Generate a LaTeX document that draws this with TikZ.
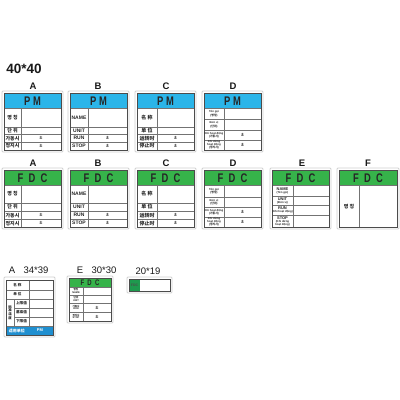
\documentclass[tikz,border=0pt]{standalone}
\usepackage{fontspec}
\setmainfont{Liberation Sans}
\newfontfamily\kr{Noto Sans CJK KR}
\newfontfamily\zh{Noto Sans CJK SC}
\definecolor{pmblue}{HTML}{2BB5E9}
\definecolor{fdcgreen}{HTML}{36B34A}
\definecolor{dkgreen}{HTML}{1E9A4E}
\definecolor{barblue}{HTML}{1F8FD0}
\tikzset{
 pframe/.style={draw=black!18, fill=white, rounded corners=1pt, line width=0.8pt},
 pbox/.style={draw=black!70, line width=0.8pt},
 pgrid/.style={draw=black!55, line width=0.5pt},
 lbl/.style={inner sep=0, font=\fontsize{5}{5.5}\selectfont\bfseries, text=black!85},
 tinylbl/.style={inner sep=0, align=center, font=\fontsize{2.8}{3.1}\selectfont\bfseries, text=black!85},
 hdr/.style={inner sep=0, font=\fontsize{12.5}{12.5}\selectfont\bfseries, text=black!85},
 capt/.style={inner sep=0, font=\fontsize{9.5}{9.5}\selectfont\bfseries, text=black!90},
 ttl/.style={inner sep=0, font=\fontsize{13.5}{13.5}\selectfont\bfseries, text=black!90}
}
\newcommand\stdpanel[9]{%
 \xdef\PX{#1}\xdef\PY{#2}\xdef\PD{#5}\xdef\PA{#6}\xdef\PB{#7}\xdef\PC{#8}\xdef\PN{#9}%
 \draw[pframe] (#1,#2) rectangle (#1+61,#2+61);
 \fill[#3] (#1+2,#2+2) rectangle (#1+59,#2+17);
 \node[hdr] (#9h) at (#1+30.5,#2+9.8) {\scalebox{0.75}[1]{#4}};
 \draw[pgrid] (#1+2,#2+17) -- (#1+59,#2+17);
 \draw[pgrid] (#1+2,#2+#6) -- (#1+59,#2+#6);
 \draw[pgrid] (#1+2,#2+#7) -- (#1+59,#2+#7);
 \draw[pgrid] (#1+2,#2+#8) -- (#1+59,#2+#8);
 \draw[pgrid] (#1+#5,#2+17) -- (#1+#5,#2+59);
 \draw[pbox] (#1+2,#2+2) rectangle (#1+59,#2+59);
}
\newcommand\labs[5]{%
 \node[#5] (\PN l1) at (\PX+1+\PD/2, \PY+8.5+\PA/2) {#1};
 \node[#5] (\PN l2) at (\PX+1+\PD/2, \PY+\PA/2+\PB/2) {#2};
 \node[#5] (\PN l3) at (\PX+1+\PD/2, \PY+\PB/2+\PC/2) {#3};
 \node[#5] (\PN l4) at (\PX+1+\PD/2, \PY+\PC/2+29.5) {#4};
}
\newcommand\pms{%
 \node[lbl] (\PN p3) at (\PX+\PD/2+29.5, \PY+\PB/2+\PC/2) {±};
 \node[lbl] (\PN p4) at (\PX+\PD/2+29.5, \PY+\PC/2+29.5) {±};
}
\begin{document}
\begin{tikzpicture}[x=1pt,y=-1pt]
\useasboundingbox (0,0) rectangle (400,400);
\fill[white] (0,0) rectangle (400,400);
% title
\node[ttl] (t40) at (24,68.5) {40*40};
% row 1 captions
\node[capt] (c1a) at (33,86) {A};
\node[capt] (c1b) at (98,86) {B};
\node[capt] (c1c) at (166,86) {C};
\node[capt] (c1d) at (233,86) {D};
% row 1 panels
\stdpanel{2}{91}{pmblue}{P M}{19}{36}{43.5}{51}{pa}
\labs{\kr 명 칭}{\kr 단 위}{\kr 가동시}{\kr 정지시}{lbl}\pms
\stdpanel{68}{91}{pmblue}{P M}{20}{36}{43.5}{51}{pb}
\labs{NAME}{UNIT}{RUN}{STOP}{lbl}\pms
\stdpanel{135}{91}{pmblue}{P M}{22}{36}{43.5}{51}{pc}
\labs{\zh 名 称}{\zh 单 位}{\zh 运转时}{\zh 停止时}{lbl}\pms
\stdpanel{202}{91}{pmblue}{P M}{22}{28.5}{39}{49}{pd}
\labs{Tên gọi\\({\kr 명칭})}{Đơn vị\\({\kr 단위})}{Khi hoạt động\\({\kr 가동시})}{Khi dừng\\hoạt động\\({\kr 정지시})}{tinylbl}\pms
% row 2 captions
\node[capt] (c2a) at (33,163) {A};
\node[capt] (c2b) at (98,163) {B};
\node[capt] (c2c) at (166,163) {C};
\node[capt] (c2d) at (233,163) {D};
\node[capt] (c2e) at (302,163) {E};
\node[capt] (c2f) at (368,163) {F};
% row 2 panels
\stdpanel{2}{168}{fdcgreen}{F\ \ D\ \ C}{19}{35}{43}{51.5}{fa}
\labs{\kr 명 칭}{\kr 단 위}{\kr 가동시}{\kr 정지시}{lbl}\pms
\stdpanel{68}{168}{fdcgreen}{F\ \ D\ \ C}{20}{35}{43}{51.5}{fb}
\labs{NAME}{UNIT}{RUN}{STOP}{lbl}\pms
\stdpanel{135}{168}{fdcgreen}{F\ \ D\ \ C}{22}{35}{43}{51.5}{fc}
\labs{\zh 名 称}{\zh 单 位}{\zh 运转时}{\zh 停止时}{lbl}\pms
\stdpanel{202}{168}{fdcgreen}{F\ \ D\ \ C}{22}{29}{39}{49}{fd}
\labs{Tên gọi\\({\kr 명칭})}{Đơn vị\\({\kr 단위})}{Khi hoạt động\\({\kr 가동시})}{Khi dừng\\hoạt động\\({\kr 정지시})}{tinylbl}\pms
\stdpanel{270}{168}{fdcgreen}{F\ \ D\ \ C}{23}{28}{37}{47}{fe}
\labs{{\fontsize{4}{4}\selectfont NAME}\\(Tên gọi)}{{\fontsize{4}{4}\selectfont UNIT}\\(Đơn vị)}{{\fontsize{4}{4}\selectfont RUN}\\(Khi hoạt động)}{{\fontsize{4}{4}\selectfont STOP}\\(Khi dừng\\hoạt động)}{tinylbl}
% panel F
\draw[pframe] (337,168) rectangle (399,229);
\fill[fdcgreen] (339,170) rectangle (397,185);
\node[hdr] (ffh) at (368,177.8) {\scalebox{0.75}[1]{F\ \ D\ \ C}};
\draw[pgrid] (339,185) -- (397,185);
\draw[pgrid] (359,185) -- (359,227);
\draw[pbox] (339,170) rectangle (397,227);
\node[lbl] (ffl) at (349,207) {\kr 명 칭};
% row 3 captions
\node[capt, font=\fontsize{9.5}{9.5}\selectfont] (c3a) at (12,270) {A};
\node[capt, font=\fontsize{9.5}{9.5}\selectfont] (c3as) at (36,270) {34*39};
\node[capt, font=\fontsize{9.5}{9.5}\selectfont] (c3e) at (80,270) {E};
\node[capt, font=\fontsize{9.5}{9.5}\selectfont] (c3es) at (104,270) {30*30};
\node[capt, font=\fontsize{9.5}{9.5}\selectfont] (c3g) at (148,271) {20*19};
% A 34*39
\draw[pframe] (4,277) rectangle (55,337);
\fill[barblue] (6,326) rectangle (53,335);
\draw[pgrid] (6,290) -- (53,290);
\draw[pgrid] (6,299) -- (53,299);
\draw[pgrid] (14,308) -- (53,308);
\draw[pgrid] (14,317) -- (53,317);
\draw[pgrid] (6,326) -- (53,326);
\draw[pgrid] (29,280) -- (29,326);
\draw[pgrid] (14,299) -- (14,326);
\draw[pbox] (6,280) rectangle (53,335);
\node[lbl, font=\fontsize{3.6}{3.8}\selectfont\bfseries] (s1) at (17.5,285) {\zh 名 称};
\node[lbl, font=\fontsize{3.6}{3.8}\selectfont\bfseries] (s2) at (17.5,294.5) {\zh 单 位};
\node[lbl, align=center, font=\zh\fontsize{3.4}{3.8}\selectfont\bfseries] (s3) at (10,312.5) {标\\准\\温\\度};
\node[lbl, font=\fontsize{3.6}{3.8}\selectfont\bfseries] (s4) at (21.5,303.5) {\zh 上限值};
\node[lbl, font=\fontsize{3.6}{3.8}\selectfont\bfseries] (s5) at (21.5,312.5) {\zh 基准值};
\node[lbl, font=\fontsize{3.6}{3.8}\selectfont\bfseries] (s6) at (21.5,321.5) {\zh 下限值};
\node[lbl, text=white, font=\fontsize{4}{4}\selectfont\bfseries] (s7) at (17,330.5) {\zh 适用单位};
\node[lbl, text=white, font=\fontsize{4}{4}\selectfont\bfseries] (s8) at (40,330.5) {PM};
% E 30*30
\draw[pframe] (67,276) rectangle (113,323);
\fill[fdcgreen] (69,278) rectangle (111,287);
\node[hdr, font=\fontsize{8}{8}\selectfont\bfseries] (eh) at (90,282.8) {\scalebox{0.75}[1]{F\ \ D\ \ C}};
\draw[pgrid] (69,287) -- (111,287);
\draw[pgrid] (69,295) -- (111,295);
\draw[pgrid] (69,303) -- (111,303);
\draw[pgrid] (69,312) -- (111,312);
\draw[pgrid] (83,287) -- (83,321);
\draw[pbox] (69,278) rectangle (111,321);
\node[tinylbl, font=\fontsize{2.5}{2.8}\selectfont\bfseries] (e1) at (76,291) {{\kr 명칭}\\NAME};
\node[tinylbl, font=\fontsize{2.5}{2.8}\selectfont\bfseries] (e2) at (76,299) {{\kr 단위}\\UNIT};
\node[tinylbl, font=\fontsize{2.5}{2.8}\selectfont\bfseries] (e3) at (76,307.5) {{\kr 가동시}\\RUN};
\node[tinylbl, font=\fontsize{2.5}{2.8}\selectfont\bfseries] (e4) at (76,316.5) {{\kr 정지시}\\STOP};
\node[lbl] (e5) at (97,307.5) {±};
\node[lbl] (e6) at (97,316.5) {±};
% 20*19
\draw[pframe] (127,277) rectangle (172,293);
\fill[dkgreen] (129,279) rectangle (140,291);
\draw[pbox] (129,279) rectangle (170,291);
\node[lbl, font=\fontsize{3.5}{3.5}\selectfont\bfseries, text=black!70] (g1) at (134.5,285) {FDC};
\end{tikzpicture}
\end{document}
